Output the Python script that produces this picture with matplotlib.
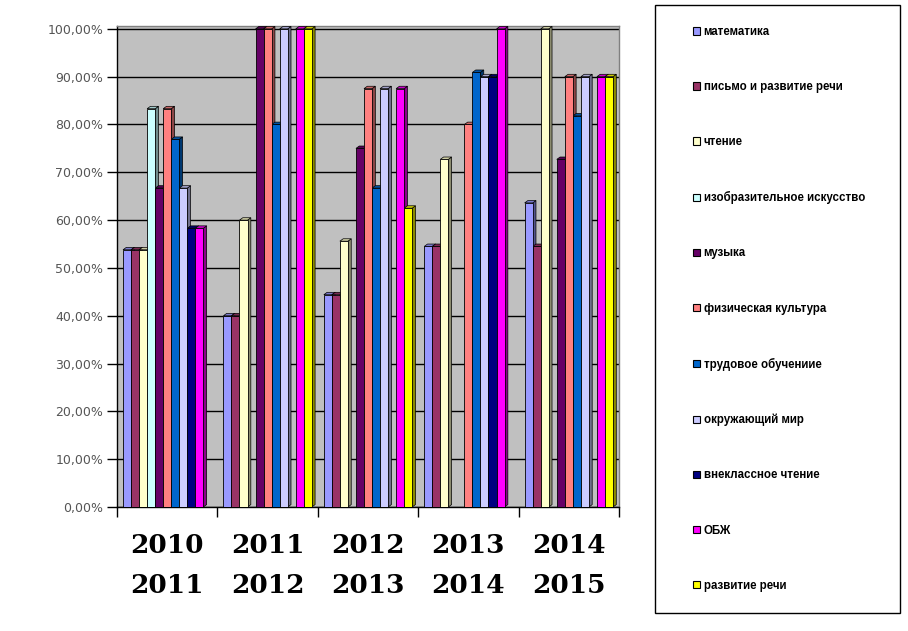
import matplotlib
matplotlib.use("Agg")
import matplotlib.pyplot as plt
import numpy as np
from matplotlib.patches import Polygon, Rectangle, Patch
from matplotlib.ticker import FuncFormatter, FixedLocator
import matplotlib.colors as mcolors

categories = ["2010\n2011", "2011\n2012", "2012\n2013", "2013\n2014", "2014\n2015"]

series_names = [
    "математика",
    "письмо и развитие речи",
    "чтение",
    "изобразительное искусство",
    "музыка",
    "физическая культура",
    "трудовое обучениие",
    "окружающий мир",
    "внеклассное чтение",
    "ОБЖ",
    "развитие речи",
]

matematika = [53.8, 40.0, 44.4, 54.5, 63.6]
pismo = [53.8, 40.0, 44.4, 54.5, 54.5]
chtenie = [53.8, 60.0, 55.6, 72.7, 100.0]
izo = [83.3, 0.0, 0.0, 0.0, 0.0]
muzyka = [66.7, 100.0, 75.0, 0.0, 72.7]
fizra = [83.3, 100.0, 87.5, 80.0, 90.0]
trud = [76.9, 80.0, 66.7, 90.9, 81.8]
okruzh = [66.7, 100.0, 87.5, 90.0, 90.0]
vneklass = [58.3, 0.0, 0.0, 90.0, 0.0]
obzh = [58.3, 100.0, 87.5, 100.0, 90.0]
razvitie = [0.0, 100.0, 62.5, 0.0, 90.0]

series_values = [matematika, pismo, chtenie, izo, muzyka, fizra, trud,
                 okruzh, vneklass, obzh, razvitie]

colors = ["#9999FF", "#993366", "#FFFFCC", "#CCFFFF", "#660066", "#FF8080",
          "#0066CC", "#CCCCFF", "#000080", "#FF00FF", "#FFFF00"]

W, H = 908, 631
fig = plt.figure(figsize=(W / 100, H / 100), dpi=100)
fig.patch.set_facecolor("white")

ax_l, ax_r, ax_t, ax_b = 117, 619, 26, 507
ax = fig.add_axes([ax_l / W, 1 - ax_b / H, (ax_r - ax_l) / W, (ax_b - ax_t) / H])
ax.set_facecolor("#C0C0C0")
ax.set_xlim(-0.5, len(categories) - 0.5)
ax.set_ylim(0, 100.6)

# grid
ax.yaxis.set_major_locator(FixedLocator(np.arange(0, 101, 10)))
ax.yaxis.grid(True, color="black", linewidth=1.0, zorder=1)
ax.set_axisbelow(True)

x = np.arange(len(categories))
n = len(series_names)
bw = 0.08
dx = 0.033
dy = 0.5

def shade(c, f):
    r, g, b = mcolors.to_rgb(c)
    return (r * f, g * f, b * f)

for i, (vals, c) in enumerate(zip(series_values, colors)):
    xs = x + (i - (n - 1) / 2) * bw
    bars = ax.bar(xs, vals, width=bw, color=c, edgecolor="black",
                  linewidth=0.6, zorder=4, label=series_names[i])
    for rect, v in zip(bars, vals):
        if v <= 0:
            rect.set_visible(False)
            continue
        x0 = rect.get_x()
        w = rect.get_width()
        h = rect.get_height()
        side = Polygon([(x0 + w, 0), (x0 + w + dx, dy), (x0 + w + dx, h + dy), (x0 + w, h)],
                       closed=True, facecolor=shade(c, 0.55), edgecolor="black",
                       linewidth=0.5, zorder=3, clip_on=False)
        top = Polygon([(x0, h), (x0 + dx, h + dy), (x0 + w + dx, h + dy), (x0 + w, h)],
                      closed=True, facecolor=shade(c, 0.8), edgecolor="black",
                      linewidth=0.5, zorder=3, clip_on=False)
        ax.add_patch(side)
        ax.add_patch(top)

# spines
for s in ["top", "right"]:
    ax.spines[s].set_color("#808080")
    ax.spines[s].set_linewidth(1.0)
for s in ["left", "bottom"]:
    ax.spines[s].set_color("black")
    ax.spines[s].set_linewidth(1.0)

# y ticks
ax.yaxis.set_major_formatter(FuncFormatter(lambda v, p: f"{v:.2f}%".replace(".", ",")))
ax.tick_params(axis="y", length=7, width=1, pad=3, labelsize=9, labelcolor="#555555",
               direction="out")
for lbl in ax.get_yticklabels():
    lbl.set_fontfamily("DejaVu Sans")

# x ticks at category boundaries
ax.set_xticks(np.arange(-0.5, len(categories), 1.0))
ax.set_xticklabels([])
ax.tick_params(axis="x", length=7, width=1, direction="out")
for xi, cat in zip(x, categories):
    ax.text(xi, -0.1216, cat, transform=ax.get_xaxis_transform(), ha="center",
            va="center", fontsize=19, fontweight="bold", family="DejaVu Serif",
            linespacing=1.75, color="black")

# legend frame
lg_l, lg_r, lg_t, lg_b = 655, 900, 5, 613
fig.patches.append(Rectangle((lg_l / W, 1 - lg_b / H), (lg_r - lg_l) / W, (lg_b - lg_t) / H,
                             transform=fig.transFigure, facecolor="white",
                             edgecolor="black", linewidth=1.0, zorder=0))

handles = [Patch(facecolor=c, edgecolor="black", linewidth=0.8) for c in colors]
leg = fig.legend(handles, series_names, loc="upper left",
                 bbox_to_anchor=(693 / W, 1 - 26 / H),
                 frameon=False, prop={"family": "Liberation Sans", "weight": "bold", "size": 8.3},
                 handlelength=0.62, handleheight=0.62, handletextpad=0.3,
                 labelspacing=3.74, borderpad=0, borderaxespad=0)

fig.savefig("out.png", dpi=100)
